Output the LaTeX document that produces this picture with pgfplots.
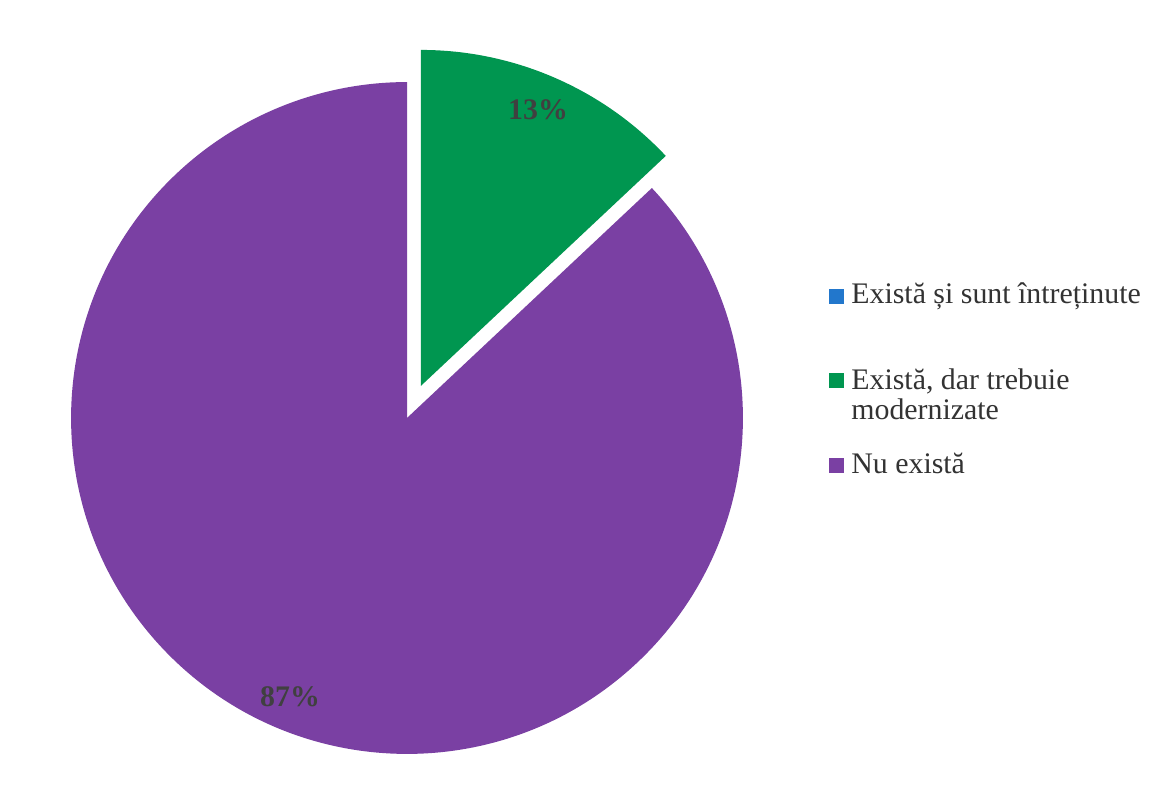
\documentclass[border=0pt]{standalone}
\usepackage{pgfplots}
\pgfplotsset{compat=1.18}
\usepackage{pgfplotstable}
\usepackage{fontspec}
\setmainfont{Liberation Serif}

\definecolor{sliceblue}{RGB}{34,119,204}
\definecolor{slicegreen}{RGB}{0,150,80}
\definecolor{slicepurple}{RGB}{122,64,163}
\definecolor{labelgrey}{RGB}{64,64,64}

% shares in percent: exista si sunt intretinute / exista, dar trebuie modernizate / nu exista
\pgfplotstableread{
share
0
13
87
}\pietable
\pgfplotstablegetelem{0}{share}\of\pietable \let\va\pgfplotsretval
\pgfplotstablegetelem{1}{share}\of\pietable \let\vb\pgfplotsretval
\pgfplotstablegetelem{2}{share}\of\pietable \let\vc\pgfplotsretval
\pgfmathsetmacro{\gStart}{90-3.6*\va}
\pgfmathsetmacro{\gEnd}{\gStart-3.6*\vb}
\pgfmathsetmacro{\pEnd}{\gEnd-3.6*\vc}
\pgfmathsetmacro{\gMid}{(\gStart+\gEnd)/2}

\begin{document}
\begin{tikzpicture}
\begin{axis}[
    x=0.02cm, y=0.02cm,
    xmin=0, xmax=1154, ymin=0, ymax=782,
    hide axis, clip=false,
]
\path[fill=white] (axis cs:0,0) rectangle (axis cs:1154,782);
% purple slice
\fill[slicepurple] (axis cs:407,364) -- ++(\gEnd:6.72cm)
    arc[start angle=\gEnd, end angle=\pEnd, radius=6.72cm] -- cycle;
% exploded green slice
\fill[slicegreen] (axis cs:{407+35*cos(\gMid)},{364+35*sin(\gMid)}) -- ++(\gStart:6.72cm)
    arc[start angle=\gStart, end angle=\gEnd, radius=6.72cm] -- cycle;
% data labels
\node[text=labelgrey, font=\fontsize{17}{19}\selectfont\bfseries] at (axis cs:538,672) {\vb\%};
\node[text=labelgrey, font=\fontsize{17}{19}\selectfont\bfseries] at (axis cs:290,85) {\vc\%};
% legend
\fill[sliceblue] (axis cs:829,478) rectangle (axis cs:844,493);
\fill[slicegreen] (axis cs:829,394) rectangle (axis cs:844,409);
\fill[slicepurple] (axis cs:829,309) rectangle (axis cs:844,324);
\begin{scope}[every node/.style={anchor=base west, inner sep=0pt, text=black!80, font=\fontsize{17}{19}\selectfont}]
\node at (axis cs:851,478) {Există și sunt întreținute};
\node at (axis cs:851,392) {Există, dar trebuie};
\node at (axis cs:851,362) {modernizate};
\node at (axis cs:851,308) {Nu există};
\end{scope}
\end{axis}
\end{tikzpicture}
\end{document}
